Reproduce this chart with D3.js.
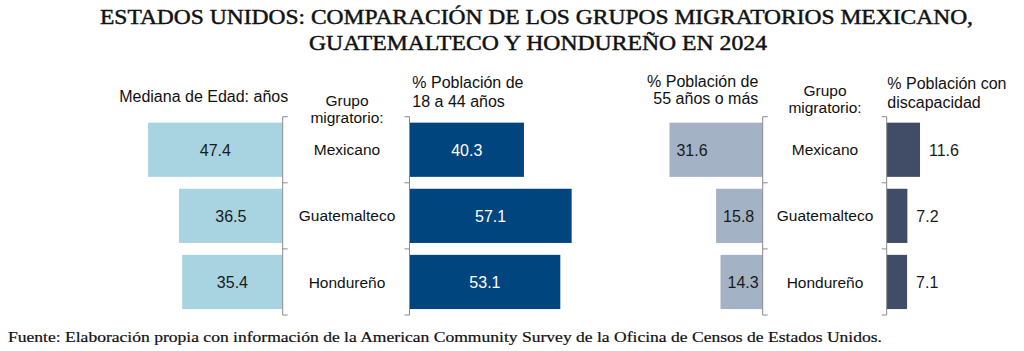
<!DOCTYPE html>
<html>
<head>
<meta charset="utf-8">
<script src="https://cdn.jsdelivr.net/npm/d3@7"></script>
<style>
  body { margin: 0; background: #fff; }
  svg { display: block; }
  .sans { font-family: "Liberation Sans", Arial, sans-serif; fill: #111; }
  .serif { font-family: "Liberation Serif", "Times New Roman", serif; fill: #111; }
  .title { stroke: #111; stroke-width: 0.45px; }
</style>
</head>
<body>
<div id="chart"></div>
<script>
// data
const groups = ['Mexicano', 'Guatemalteco', 'Hondureño'];
const medianAge = [47.4, 36.5, 35.4];
const pct18to44 = [40.3, 57.1, 53.1];
const pct55plus = [31.6, 15.8, 14.3];
const pctDisability = [11.6, 7.2, 7.1];

const titleLines = [
  'ESTADOS UNIDOS: COMPARACIÓN DE LOS GRUPOS MIGRATORIOS MEXICANO,',
  'GUATEMALTECO Y HONDUREÑO EN 2024'
];
const source = 'Fuente: Elaboración propia con información de la American Community Survey de la Oficina de Censos de Estados Unidos.';

const width = 1024, height = 351;

const svg = d3.select('#chart').append('svg')
  .attr('width', width)
  .attr('height', height);

// title
svg.append('text').attr('class', 'serif title')
  .attr('x', 100).attr('y', 24)
  .attr('font-size', 21)
  .attr('textLength', 873).attr('lengthAdjust', 'spacingAndGlyphs')
  .text(titleLines[0]);
svg.append('text').attr('class', 'serif title')
  .attr('x', 309).attr('y', 49.5)
  .attr('font-size', 21)
  .attr('textLength', 458).attr('lengthAdjust', 'spacingAndGlyphs')
  .text(titleLines[1]);

// shared band scale for the rows
const y = d3.scaleBand()
  .domain(groups)
  .range([116.7, 315])
  .paddingInner(0.18)
  .paddingOuter(0.09);

const boundaries = groups.map(g => y(g) - y.step() * y.paddingInner() / 2)
  .concat([y.range()[1]]);

// one panel = axis at x0, bars going left (dir -1) or right (dir 1)
function panel(values, x0, pxPerUnit, dir, color, labelColor, labelMode) {
  const x = d3.scaleLinear()
    .domain([0, 60])
    .range([x0, x0 + dir * 60 * pxPerUnit]);
  const g = svg.append('g');

  g.selectAll('rect')
    .data(values)
    .join('rect')
    .attr('x', d => Math.min(x(0), x(d)))
    .attr('y', (d, i) => y(groups[i]))
    .attr('width', d => Math.abs(x(d) - x(0)))
    .attr('height', y.bandwidth())
    .attr('fill', color);

  g.selectAll('text.val')
    .data(values)
    .join('text')
    .attr('class', 'val sans')
    .attr('font-size', 16)
    .style('fill', labelColor)
    .attr('dy', '0.36em')
    .attr('y', (d, i) => y(groups[i]) + y.bandwidth() / 2)
    .attr('x', d => {
      if (labelMode === 'center') return (x(0) + x(d)) / 2;
      if (labelMode === 'insideStart') return x(d) + 7;
      return x(d) + 9;
    })
    .attr('text-anchor', labelMode === 'center' ? 'middle' : 'start')
    .text(d => d.toFixed(1));

  // axis line with ticks at row boundaries, ticks pointing away from bars
  const tick = -dir * 5;
  g.append('line')
    .attr('x1', x0).attr('x2', x0)
    .attr('y1', boundaries[0]).attr('y2', boundaries[boundaries.length - 1])
    .attr('stroke', '#8a8a8a').attr('stroke-width', 1);
  g.selectAll('line.tick')
    .data(boundaries)
    .join('line')
    .attr('class', 'tick')
    .attr('x1', x0).attr('x2', x0 + tick)
    .attr('y1', d => d).attr('y2', d => d)
    .attr('stroke', '#8a8a8a').attr('stroke-width', 1);
}

panel(medianAge, 282.7, 2.84, -1, '#a8d4e1', '#1a1a1a', 'center');
panel(pct18to44, 409.5, 2.84, 1, '#01457e', '#ffffff', 'center');
panel(pct55plus, 762.7, 2.95, -1, '#a3b2c5', '#1a1a1a', 'insideStart');
panel(pctDisability, 886.7, 2.87, 1, '#414c66', '#1a1a1a', 'outside');

// category labels between the axes
function categoryColumn(cx, headY) {
  svg.selectAll(null)
    .data(groups)
    .join('text')
    .attr('class', 'sans')
    .attr('font-size', 15.5)
    .attr('text-anchor', 'middle')
    .attr('x', cx)
    .attr('y', g => y(g) + y.bandwidth() / 2)
    .attr('dy', '0.36em')
    .text(g => g);
  svg.append('text').attr('class', 'sans')
    .attr('font-size', 15.5).attr('text-anchor', 'middle')
    .attr('x', cx).attr('y', headY).text('Grupo');
  svg.append('text').attr('class', 'sans')
    .attr('font-size', 15.5).attr('text-anchor', 'middle')
    .attr('x', cx).attr('y', headY + 17.5).text('migratorio:');
}
categoryColumn(347, 105.5);
categoryColumn(825, 95.5);

// panel headers
function header(lines, x, yTop, anchor, gap) {
  lines.forEach((t, i) => {
    svg.append('text').attr('class', 'sans')
      .attr('font-size', 16)
      .attr('text-anchor', anchor)
      .attr('x', x).attr('y', yTop + i * gap)
      .text(t);
  });
}
header(['Mediana de Edad: años'], 203.7, 101.7, 'middle', 0);
header(['% Población de', '18 a 44 años'], 412.3, 87.5, 'start', 19);
header(['% Población de', '55 años o más'], 758.3, 86.5, 'end', 17.5);
header(['% Población con', 'discapacidad'], 887.3, 88.5, 'start', 19);

// source
svg.append('text').attr('class', 'serif')
  .attr('x', 8).attr('y', 342.3)
  .attr('font-size', 14)
  .style('stroke', '#111').style('stroke-width', '0.2px')
  .attr('textLength', 874).attr('lengthAdjust', 'spacingAndGlyphs')
  .text(source);
</script>
</body>
</html>
